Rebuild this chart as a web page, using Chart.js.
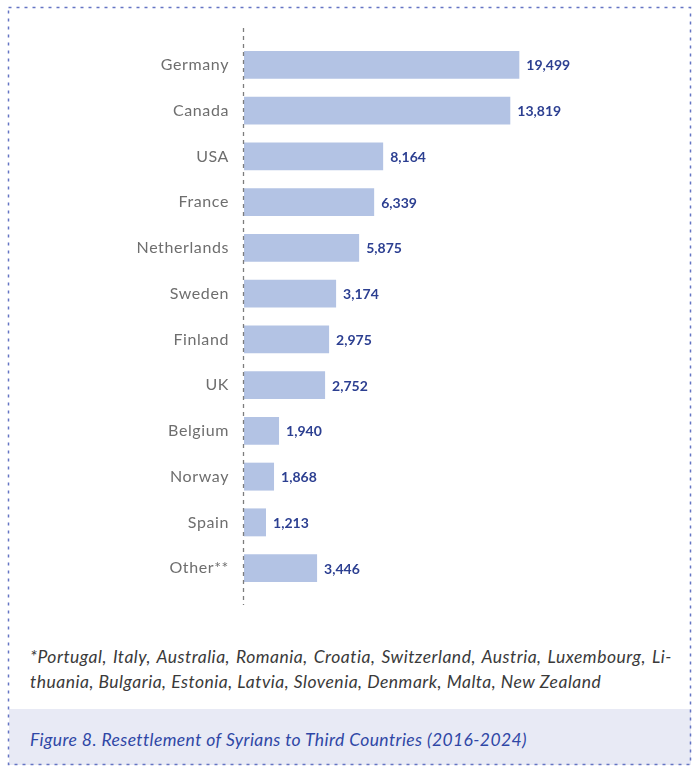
<!DOCTYPE html>
<html>
<head>
<meta charset="utf-8">
<script src="https://cdn.jsdelivr.net/npm/chart.js@4/dist/chart.umd.min.js"></script>
<style>
    html, body { margin: 0; padding: 0; background: #ffffff; }
    #page { position: relative; width: 694px; height: 767px; overflow: hidden; }
    #chart-box { position: absolute; left: 0; top: 0; width: 694px; height: 620px; }
    #frame { position: absolute; left: 0; top: 0; }
    .note {
        position: absolute; left: 30px; width: 642px;
        font-family: 'Lato', 'Open Sans', sans-serif; font-style: italic;
        font-size: 17.5px; letter-spacing: 0.5px; color: #3a3a3a; white-space: nowrap;
    }
    #note-1 { top: 646px; text-align: justify; text-align-last: justify; }
    #note-2 { top: 671px; }
    #caption-bg { position: absolute; left: 9px; top: 709px; width: 682px; height: 56px; background: #e8eaf5; }
    #caption {
        position: absolute; left: 30px; top: 729px;
        font-family: 'Lato', 'Open Sans', sans-serif; font-style: italic;
        font-size: 17.5px; letter-spacing: 0.4px; color: #2f47a6; white-space: nowrap;
    }
</style>
</head>
<body>
<div id="page">
    <div id="caption-bg"></div>
    <div id="chart-box"><canvas id="resettlement-chart" width="694" height="620"></canvas></div>
    <div class="note" id="note-1">*Portugal, Italy, Australia, Romania, Croatia, Switzerland, Austria, Luxembourg, Li-</div>
    <div class="note" id="note-2">thuania, Bulgaria, Estonia, Latvia, Slovenia, Denmark, Malta, New Zealand</div>
    <div id="caption">Figure 8. Resettlement of Syrians to Third Countries (2016-2024)</div>
    <svg id="frame" width="694" height="767">
        <rect x="8.5" y="7.5" width="682" height="757" fill="none" stroke="#6575c4" stroke-width="1.5" stroke-dasharray="3 5"/>
    </svg>
</div>
<script>
// Страны (категории)
const countries = ['Germany', 'Canada', 'USA', 'France', 'Netherlands', 'Sweden',
                   'Finland', 'UK', 'Belgium', 'Norway', 'Spain', 'Other**'];

// Подписи значений (число переселённых)
const resettled = [19499, 13819, 8164, 6339, 5875, 3174, 2975, 2752, 1940, 1868, 1213, 3446];

// Длины столбцов в исходнике не пропорциональны подписям,
// поэтому отдельно - длины (в тех же единицах, Germany = 19 499)
const barLengths = [19499, 18860, 9855, 9218, 8154, 6523, 6027, 5743, 2482, 2127, 1560, 5176];

const axisMax = 25000;

// Разрядка для подписей стран
const labelSpacing = {
    id: 'labelSpacing',
    beforeDraw(chart) { chart.ctx.letterSpacing = '0.6px'; },
    afterDraw(chart) { chart.ctx.letterSpacing = '0px'; }
};

// Пунктирная ось слева от столбцов
const dashedAxis = {
    id: 'dashedAxis',
    afterDatasetsDraw(chart) {
        const { ctx, chartArea, scales } = chart;
        const x = Math.round(scales.x.getPixelForValue(0)) - 0.5;
        ctx.save();
        ctx.strokeStyle = '#7d7d7d';
        ctx.lineWidth = 1.3;
        ctx.setLineDash([4, 4]);
        ctx.beginPath();
        ctx.moveTo(x, chartArea.top - 14);
        ctx.lineTo(x, chartArea.bottom + 14);
        ctx.stroke();
        ctx.restore();
    }
};

// Подписи значений справа от столбцов
const valueLabels = {
    id: 'valueLabels',
    afterDatasetsDraw(chart) {
        const { ctx } = chart;
        const meta = chart.getDatasetMeta(0);
        ctx.save();
        ctx.letterSpacing = '0px';
        ctx.font = 'bold 14px Lato, "Open Sans", sans-serif';
        ctx.fillStyle = '#2c3f91';
        ctx.textAlign = 'left';
        ctx.textBaseline = 'middle';
        meta.data.forEach((bar, i) => {
            ctx.fillText(resettled[i].toLocaleString('en-US'), bar.x + 7, bar.y + 1);
        });
        ctx.restore();
    }
};

const canvas = document.getElementById('resettlement-chart').getContext('2d');
new Chart(canvas, {
    type: 'bar',
    data: {
        labels: countries,
        datasets: [{
            label: 'Resettled Syrians',
            data: barLengths,
            backgroundColor: '#b3c3e4',
            borderWidth: 0,
            barPercentage: 0.61,
            categoryPercentage: 1
        }]
    },
    options: {
        indexAxis: 'y',
        responsive: false,
        devicePixelRatio: 1,
        animation: false,
        layout: { padding: { top: 42, bottom: 29, left: 0, right: 97 } },
        plugins: {
            legend: { display: false },
            tooltip: { enabled: false }
        },
        scales: {
            x: { display: false, min: 0, max: axisMax },
            y: {
                afterFit(scale) { scale.width = 244; },
                grid: { display: false, drawTicks: false },
                border: { display: false },
                ticks: {
                    padding: 15,
                    color: '#6e6e6e',
                    font: { family: 'Lato', size: 16 }
                }
            }
        }
    },
    plugins: [labelSpacing, dashedAxis, valueLabels]
});
</script>
</body>
</html>
